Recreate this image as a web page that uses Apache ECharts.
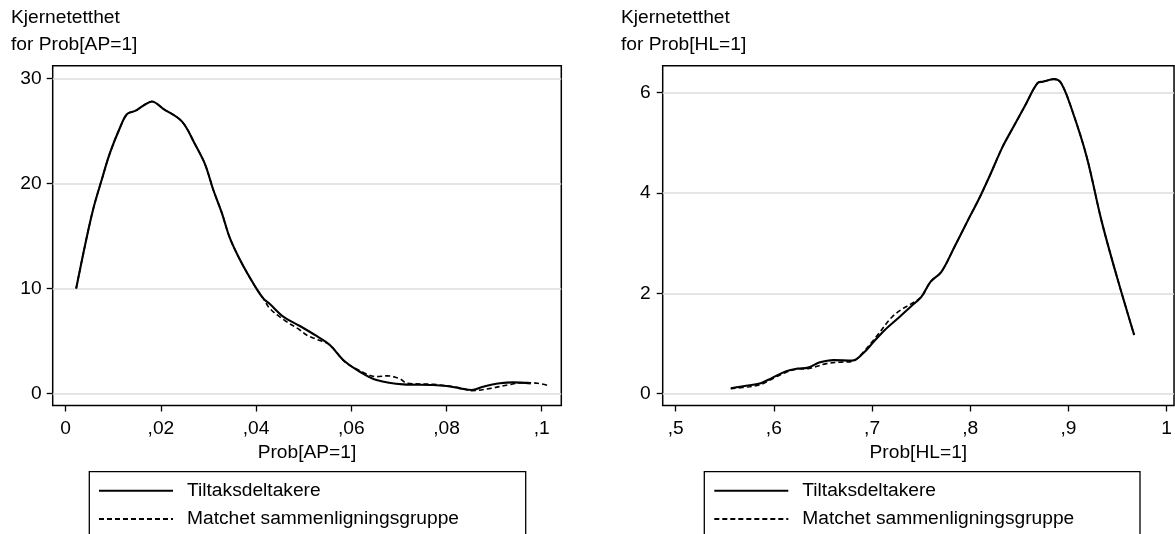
<!DOCTYPE html>
<html>
<head>
<meta charset="utf-8">
<script src="https://cdn.jsdelivr.net/npm/echarts@6.0.0/dist/echarts.min.js"></script>
<style>
html,body{margin:0;padding:0;background:#fff;}
#chart{width:1175px;height:534px;}
</style>
</head>
<body>
<div id="chart"></div>
<script>
// ---------- data ----------
const seriesNames = ['Tiltaksdeltakere', 'Matchet sammenligningsgruppe'];

// Left panel: Prob[AP=1]
const apSolidX = [0.0022, 0.0041, 0.0058, 0.0076, 0.0093, 0.0114, 0.0129, 0.0146, 0.0163, 0.0181, 0.0205, 0.0244, 0.0272, 0.0293, 0.0310, 0.0328, 0.0345, 0.0370, 0.0398, 0.0415, 0.0429, 0.0457, 0.0492, 0.0527, 0.0555, 0.0583, 0.0618, 0.0653, 0.0709, 0.0772, 0.0800, 0.0828, 0.0853, 0.0877, 0.0912, 0.0940, 0.0977];
const apSolidY = [10.0, 14.2, 17.6, 20.4, 22.9, 25.3, 26.6, 26.9, 27.4, 27.8, 27.1, 25.9, 23.7, 21.8, 19.4, 17.2, 14.8, 12.4, 10.2, 9.07, 8.53, 7.33, 6.44, 5.49, 4.63, 3.21, 2.09, 1.30, 0.89, 0.83, 0.73, 0.51, 0.35, 0.67, 0.99, 1.08, 0.98];
const apDashX = [0.0022, 0.0041, 0.0058, 0.0076, 0.0093, 0.0114, 0.0129, 0.0146, 0.0163, 0.0181, 0.0205, 0.0244, 0.0272, 0.0293, 0.0310, 0.0328, 0.0345, 0.0370, 0.0398, 0.0415, 0.0429, 0.0457, 0.0492, 0.0506, 0.0527, 0.0555, 0.0586, 0.0618, 0.0653, 0.0675, 0.0703, 0.0717, 0.0772, 0.0828, 0.0853, 0.0893, 0.0928, 0.0963, 0.0991, 0.1015];
const apDashY = [10.0, 14.2, 17.6, 20.4, 22.9, 25.3, 26.6, 26.9, 27.4, 27.8, 27.1, 25.9, 23.7, 21.8, 19.4, 17.2, 14.8, 12.4, 10.2, 9.07, 8.10, 7.07, 6.06, 5.58, 5.17, 4.63, 3.05, 2.19, 1.62, 1.70, 1.40, 0.99, 0.89, 0.57, 0.29, 0.51, 0.83, 1.05, 1.00, 0.76];
const apXTicks = [0, 0.02, 0.04, 0.06, 0.08, 0.1];
const apYTicks = [0, 10, 20, 30];

// Right panel: Prob[HL=1]
const hlSolidX = [0.5561, 0.5755, 0.5866, 0.5978, 0.6126, 0.6238, 0.6349, 0.6461, 0.6610, 0.6796, 0.6907, 0.7019, 0.7130, 0.7279, 0.7390, 0.7502, 0.7595, 0.7706, 0.7840, 0.7995, 0.8083, 0.8195, 0.8329, 0.8440, 0.8552, 0.8684, 0.8740, 0.8852, 0.8926, 0.9037, 0.9186, 0.9335, 0.9483, 0.9669];
const hlSolidY = [0.11, 0.17, 0.21, 0.31, 0.45, 0.50, 0.52, 0.62, 0.67, 0.66, 0.80, 1.04, 1.27, 1.53, 1.73, 1.93, 2.23, 2.43, 2.93, 3.53, 3.86, 4.33, 4.92, 5.32, 5.72, 6.19, 6.22, 6.27, 6.19, 5.65, 4.72, 3.46, 2.40, 1.17];
const hlDashX = [0.5561, 0.5755, 0.5866, 0.5978, 0.6126, 0.6238, 0.6349, 0.6535, 0.6680, 0.6796, 0.6907, 0.7019, 0.7056, 0.7204, 0.7316, 0.7390, 0.7502, 0.7595, 0.7706, 0.7840, 0.7995, 0.8083, 0.8195, 0.8329, 0.8440, 0.8552, 0.8684, 0.8740, 0.8852, 0.8926, 0.9037, 0.9186, 0.9335, 0.9483, 0.9669];
const hlDashY = [0.10, 0.14, 0.18, 0.29, 0.43, 0.49, 0.50, 0.60, 0.63, 0.64, 0.82, 1.08, 1.17, 1.53, 1.70, 1.78, 1.93, 2.23, 2.43, 2.93, 3.53, 3.86, 4.33, 4.92, 5.32, 5.72, 6.19, 6.22, 6.27, 6.19, 5.65, 4.72, 3.46, 2.40, 1.17];
const hlXTicks = [0.5, 0.6, 0.7, 0.8, 0.9, 1.0];
const hlYTicks = [0, 2, 4, 6];

const titles = ['Kjernetetthet\nfor Prob[AP=1]', 'Kjernetetthet\nfor Prob[HL=1]'];
const xNames = ['Prob[AP=1]', 'Prob[HL=1]'];

// ---------- helpers ----------
const FONT = "'Liberation Sans', Arial, Helvetica, sans-serif";
const FS = 19.2;
function pairs(xs, ys) { return xs.map((x, i) => [x, ys[i]]); }
function fmtX(v) {
  if (Math.abs(v) < 1e-12) return '0';
  if (Math.abs(v - 1) < 1e-12) return '1';
  return String(+v.toFixed(4)).replace(/^0\./, ',');
}
const txt = { color: '#000', fontFamily: FONT, fontSize: FS };

function xAxisDef(gi, min, max, ticks, name) {
  return {
    type: 'value', gridIndex: gi, min: min, max: max,
    axisLine: { show: false, onZero: false },
    axisTick: { show: true, length: 6, customValues: ticks, lineStyle: { color: '#000', width: 1.3 } },
    axisLabel: Object.assign({ customValues: ticks, margin: 13.5, formatter: fmtX }, txt),
    splitLine: { show: false },
    name: name, nameLocation: 'middle', nameGap: 36.5, nameTextStyle: txt
  };
}
function yAxisDef(gi, min, max, ticks, margin) {
  return {
    type: 'value', gridIndex: gi, min: min, max: max,
    axisLine: { show: false, onZero: false },
    axisTick: { show: true, length: 6, customValues: ticks, lineStyle: { color: '#000', width: 1.3 } },
    axisLabel: Object.assign({ customValues: ticks, margin: margin, formatter: v => String(v) }, txt),
    splitLine: { show: false }
  };
}
function gridSeries(ai, ticks) {
  return {
    type: 'line', xAxisIndex: ai, yAxisIndex: ai, data: [], silent: true, z: 1,
    markLine: {
      z: 1, silent: true, symbol: ['none', 'none'], animation: false,
      label: { show: false },
      lineStyle: { color: '#dcdcdc', width: 1.6, type: 'solid' },
      emphasis: { disabled: true },
      data: ticks.map(t => ({ yAxis: t }))
    }
  };
}
function curve(ai, name, xs, ys, dashed) {
  return {
    type: 'line', name: name, xAxisIndex: ai, yAxisIndex: ai,
    data: pairs(xs, ys), showSymbol: false, symbol: 'none', smooth: 0.35,
    z: dashed ? 3 : 4,
    lineStyle: dashed ? { color: '#000', width: 1.6, type: [5, 3] } : { color: '#000', width: 2.1, type: 'solid' },
    itemStyle: { color: '#000' },
    emphasis: { disabled: true }
  };
}
function legendDef(left) {
  return {
    data: seriesNames, orient: 'vertical', left: left, top: 481,
    itemWidth: 74, itemHeight: 14, itemGap: 8.8, padding: 0,
    selectedMode: false,
    itemStyle: { opacity: 0, borderWidth: 0 },
    textStyle: Object.assign({ padding: [0, 0, 0, 9], lineHeight: 19.5 }, txt)
  };
}

const chart = echarts.init(document.getElementById('chart'), null, { renderer: 'canvas' });
chart.setOption({
  animation: false,
  backgroundColor: '#fff',
  title: [
    { text: titles[0], left: 11, top: 4, padding: 0, textStyle: Object.assign({ fontWeight: 'normal', lineHeight: 27 }, txt) },
    { text: titles[1], left: 621, top: 4, padding: 0, textStyle: Object.assign({ fontWeight: 'normal', lineHeight: 27 }, txt) }
  ],
  grid: [
    { left: 52.7, top: 65.7, width: 508.6, height: 339.8, show: true, borderColor: '#000', borderWidth: 1.5, backgroundColor: '#fff' },
    { left: 662.7, top: 65.7, width: 514, height: 339.8, show: true, borderColor: '#000', borderWidth: 1.5, backgroundColor: '#fff' }
  ],
  xAxis: [
    xAxisDef(0, -0.00273, 0.10412, apXTicks, xNames[0]),
    xAxisDef(1, 0.4868, 1.0075, hlXTicks, xNames[1])
  ],
  yAxis: [
    yAxisDef(0, -1.122, 31.2, apYTicks, 11),
    yAxisDef(1, -0.235, 6.538, hlYTicks, 12)
  ],
  legend: [legendDef(98), legendDef(713.3)],
  graphic: [
    { type: 'rect', silent: true, shape: { x: 89.3, y: 471.7, width: 436.4, height: 90 }, style: { fill: 'none', stroke: '#000', lineWidth: 1.3 } },
    { type: 'rect', silent: true, shape: { x: 704.3, y: 471.7, width: 435.7, height: 90 }, style: { fill: 'none', stroke: '#000', lineWidth: 1.3 } }
  ],
  series: [
    gridSeries(0, apYTicks),
    gridSeries(1, hlYTicks),
    curve(0, seriesNames[1], apDashX, apDashY, true),
    curve(0, seriesNames[0], apSolidX, apSolidY, false),
    curve(1, seriesNames[1], hlDashX, hlDashY, true),
    curve(1, seriesNames[0], hlSolidX, hlSolidY, false)
  ]
});
</script>
</body>
</html>
